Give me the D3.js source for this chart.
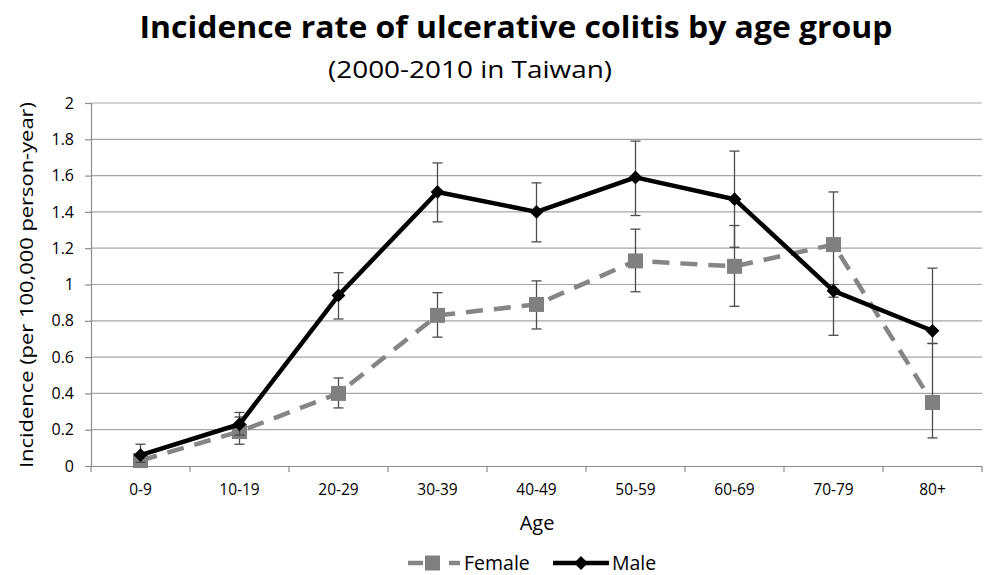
<!DOCTYPE html>
<html>
<head>
<meta charset="utf-8">
<script src="https://cdn.jsdelivr.net/npm/d3@7"></script>
<style>
  body { margin: 0; background: #fff; }
  svg { display: block; font-family: "Open Sans", "Noto Sans", sans-serif; }
</style>
</head>
<body>
<svg id="chart" width="985" height="575"></svg>
<script>
const categories = ["0-9", "10-19", "20-29", "30-39", "40-49", "50-59", "60-69", "70-79", "80+"];
const femaleValues = [0.03, 0.19, 0.40, 0.83, 0.89, 1.13, 1.10, 1.22, 0.35];
const femaleLow    = [0.01, 0.12, 0.32, 0.71, 0.755, 0.96, 0.88, 0.72, 0.155];
const femaleHigh   = [0.06, 0.27, 0.485, 0.955, 1.02, 1.305, 1.325, 1.51, 0.675];
const maleValues   = [0.06, 0.23, 0.94, 1.51, 1.40, 1.59, 1.47, 0.965, 0.745];
const maleLow      = [0.02, 0.17, 0.81, 1.345, 1.235, 1.38, 1.205, 0.93, 0.675];
const maleHigh     = [0.12, 0.295, 1.065, 1.67, 1.56, 1.79, 1.735, 1.00, 1.09];
const yTicks = [0, 0.2, 0.4, 0.6, 0.8, 1, 1.2, 1.4, 1.6, 1.8, 2];

const svg = d3.select("#chart");
const plot = { left: 91, right: 982, top: 103, bottom: 466 };

const x = d3.scaleBand().domain(categories).range([plot.left, plot.right]).padding(0);
const y = d3.scaleLinear().domain([0, 2]).range([plot.bottom, plot.top]);
const cx = d => x(d) + x.bandwidth() / 2;

// Title
svg.append("text").attr("x", 516).attr("y", 38).attr("text-anchor", "middle")
  .attr("font-weight", "bold").attr("font-size", 31).attr("fill", "#000")
  .attr("textLength", 753).attr("lengthAdjust", "spacingAndGlyphs")
  .text("Incidence rate of ulcerative colitis by age group");
svg.append("text").attr("x", 470).attr("y", 78).attr("text-anchor", "middle")
  .attr("font-size", 24).attr("fill", "#000")
  .attr("textLength", 284).attr("lengthAdjust", "spacingAndGlyphs")
  .text("(2000-2010 in Taiwan)");

// Gridlines
svg.append("g").selectAll("line").data(yTicks.filter(t => t > 0)).join("line")
  .attr("x1", plot.left).attr("x2", plot.right)
  .attr("y1", d => y(d)).attr("y2", d => y(d))
  .attr("stroke", "#a6a6a6").attr("stroke-width", 1.2);

// Y axis
const yAxis = svg.append("g").attr("transform", `translate(${plot.left},0)`)
  .call(d3.axisLeft(y).tickValues(yTicks).tickSize(6).tickPadding(11).tickFormat(d3.format("~g")));
yAxis.select(".domain").attr("stroke", "#8c8c8c").attr("stroke-width", 1.2);
yAxis.selectAll(".tick line").attr("stroke", "#8c8c8c").attr("stroke-width", 1.2);
yAxis.selectAll(".tick text").attr("font-size", 16).attr("fill", "#000")
  .attr("font-family", "Open Sans, sans-serif");

// X axis
const xAxis = svg.append("g").attr("transform", `translate(0,${plot.bottom})`)
  .call(d3.axisBottom(x).tickSize(0).tickPadding(18));
xAxis.select(".domain").attr("stroke", "#8c8c8c").attr("stroke-width", 1.2);
xAxis.selectAll(".tick text").attr("font-size", 15.5).attr("fill", "#000")
  .attr("font-family", "Open Sans, sans-serif");
// x tick marks at band boundaries
const bounds = categories.map(c => x(c)).concat([plot.right]);
svg.append("g").selectAll("line").data(bounds).join("line")
  .attr("x1", d => d).attr("x2", d => d).attr("y1", plot.bottom).attr("y2", plot.bottom + 6)
  .attr("stroke", "#8c8c8c").attr("stroke-width", 1.2);

// Axis titles
svg.append("text").attr("x", 537).attr("y", 530).attr("text-anchor", "middle")
  .attr("font-size", 20).attr("fill", "#000").text("Age");
svg.append("text").attr("transform", "translate(33,285) rotate(-90)").attr("text-anchor", "middle")
  .attr("font-size", 19).attr("fill", "#000")
  .attr("textLength", 366).attr("lengthAdjust", "spacingAndGlyphs")
  .text("Incidence (per 100,000 person-year)");

// Error bars
function errorBars(lo, hi) {
  const g = svg.append("g").attr("stroke", "#4d4d4d").attr("stroke-width", 1.3);
  categories.forEach((c, i) => {
    const px = cx(c);
    g.append("line").attr("x1", px).attr("x2", px).attr("y1", y(lo[i])).attr("y2", y(hi[i]));
    g.append("line").attr("x1", px - 5).attr("x2", px + 5).attr("y1", y(lo[i])).attr("y2", y(lo[i]));
    g.append("line").attr("x1", px - 5).attr("x2", px + 5).attr("y1", y(hi[i])).attr("y2", y(hi[i]));
  });
}

const line = d3.line().x((d, i) => cx(categories[i])).y(d => y(d));

// Female series
errorBars(femaleLow, femaleHigh);
svg.append("path").datum(femaleValues).attr("d", line).attr("fill", "none")
  .attr("stroke", "#858585").attr("stroke-width", 4.5).attr("stroke-dasharray", "17,11");
svg.append("g").selectAll("rect").data(femaleValues).join("rect")
  .attr("x", (d, i) => cx(categories[i]) - 7.5).attr("y", d => y(d) - 7.5)
  .attr("width", 15).attr("height", 15).attr("fill", "#808080");

// Male series
errorBars(maleLow, maleHigh);
svg.append("path").datum(maleValues).attr("d", line).attr("fill", "none")
  .attr("stroke", "#000").attr("stroke-width", 4.5).attr("stroke-linejoin", "round");
svg.append("g").selectAll("path").data(maleValues).join("path")
  .attr("transform", (d, i) => `translate(${cx(categories[i])},${y(d)}) rotate(45)`)
  .attr("d", d3.symbol().type(d3.symbolSquare).size(95)).attr("fill", "#000");

// Legend
const lg = svg.append("g");
const ly = 563;
lg.append("line").attr("x1", 408).attr("x2", 423).attr("y1", ly).attr("y2", ly)
  .attr("stroke", "#858585").attr("stroke-width", 4.5);
lg.append("line").attr("x1", 449).attr("x2", 460).attr("y1", ly).attr("y2", ly)
  .attr("stroke", "#858585").attr("stroke-width", 4.5);
lg.append("rect").attr("x", 425).attr("y", ly - 7.5).attr("width", 15).attr("height", 15).attr("fill", "#808080");
lg.append("text").attr("x", 464).attr("y", ly + 7).attr("font-size", 19.5).attr("fill", "#000").text("Female");
lg.append("line").attr("x1", 553).attr("x2", 609).attr("y1", ly).attr("y2", ly)
  .attr("stroke", "#000").attr("stroke-width", 4.5);
lg.append("path").attr("transform", `translate(581,${ly}) rotate(45)`)
  .attr("d", d3.symbol().type(d3.symbolSquare).size(95)).attr("fill", "#000");
lg.append("text").attr("x", 612).attr("y", ly + 7).attr("font-size", 19.5).attr("fill", "#000").text("Male");
</script>
</body>
</html>
